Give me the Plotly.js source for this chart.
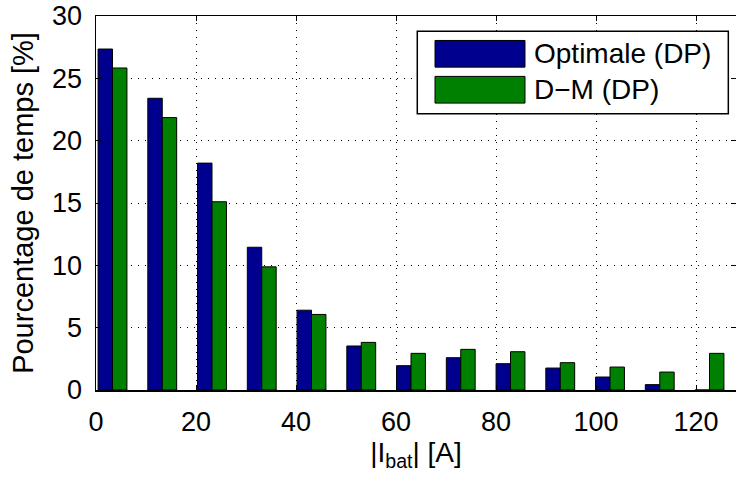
<!DOCTYPE html>
<html>
<head>
<meta charset="utf-8">
<script src="https://cdn.plot.ly/plotly-3.0.1.min.js"></script>
<style>html,body{margin:0;padding:0;background:#fff;}#chart{width:736px;height:478px;}</style>
</head>
<body>
<div id="chart"></div>
<script>
// Data
const binCenters = [3.3, 13.25, 23.2, 33.15, 43.1, 53.05, 63.0, 72.95, 82.9, 92.85, 102.8, 112.75, 122.7];
const optimaleDP = [27.35, 23.4, 18.2, 11.45, 6.4, 3.53, 1.95, 2.59, 2.11, 1.76, 1.04, 0.43, 0];
const dmDP       = [25.83, 21.85, 15.1, 9.88, 6.06, 3.82, 2.94, 3.26, 3.07, 2.19, 1.84, 1.44, 2.94];
const seriesNames = ['Optimale (DP)', 'D\u2212M (DP)'];
const xTicks = [0, 20, 40, 60, 80, 100, 120];
const yTicks = [0, 5, 10, 15, 20, 25, 30];

const colors = ['#00008f', '#008000'];
const font = 'Liberation Sans, Arial, sans-serif';

const traces = [optimaleDP, dmDP].map((vals, i) => ({
  type: 'bar',
  x: binCenters,
  y: vals,
  name: seriesNames[i],
  marker: {color: colors[i], line: {color: '#000', width: 1}},
  showlegend: false,
  hoverinfo: 'skip'
}));

// legend drawn as layout shapes/annotations (MATLAB-style wide swatches)
const legBox = {x0: 0.502, x1: 0.988, y0: 0.7388, y1: 0.9594};
const swatchRows = [[0.8633, 0.9346], [0.7671, 0.8385]];
const shapes = [{type: 'rect', xref: 'paper', yref: 'paper', x0: legBox.x0, x1: legBox.x1, y0: legBox.y0, y1: legBox.y1,
  line: {color: '#000', width: 1.5}, fillcolor: '#fff', layer: 'above'}];
const annotations = [];
seriesNames.forEach((n, i) => {
  shapes.push({type: 'rect', xref: 'paper', yref: 'paper', x0: 0.5297, x1: 0.6703, y0: swatchRows[i][0], y1: swatchRows[i][1],
    line: {color: '#000', width: 1}, fillcolor: colors[i], layer: 'above'});
  annotations.push({xref: 'paper', yref: 'paper', x: 0.682, y: (swatchRows[i][0] + swatchRows[i][1]) / 2,
    xanchor: 'left', yanchor: 'middle', text: n, showarrow: false, font: {family: font, size: 28, color: '#000'}});
});

const axisCommon = {
  showline: true, linecolor: '#000', linewidth: 1.5, mirror: 'ticks',
  ticks: 'inside', ticklen: 5, tickcolor: '#000', tickwidth: 1,
  showgrid: true, gridcolor: '#000', griddash: '1px,6px', gridwidth: 1,
  zeroline: false, tickfont: {family: font, size: 27, color: '#000'}
};

const layout = {
  width: 736, height: 478,
  margin: {l: 96, r: 0, t: 15.5, b: 88},
  paper_bgcolor: '#fff', plot_bgcolor: '#fff',
  barmode: 'group', bargap: 0.42, bargroupgap: 0,
  xaxis: Object.assign({}, axisCommon, {
    range: [0, 128], tickvals: xTicks, ticklabelstandoff: 7,
    title: {text: '|I<sub>bat</sub>| [A]', font: {family: font, size: 28, color: '#000'}, standoff: 4}
  }),
  yaxis: Object.assign({}, axisCommon, {
    range: [0, 30], tickvals: yTicks, ticklabelstandoff: 7,
    title: {text: 'Pourcentage de temps [%]', font: {family: font, size: 29, color: '#000'}, standoff: 10}
  }),
  shapes: shapes,
  annotations: annotations,
  showlegend: false
};

Plotly.newPlot('chart', traces, layout, {staticPlot: true, displayModeBar: false});
</script>
</body>
</html>
